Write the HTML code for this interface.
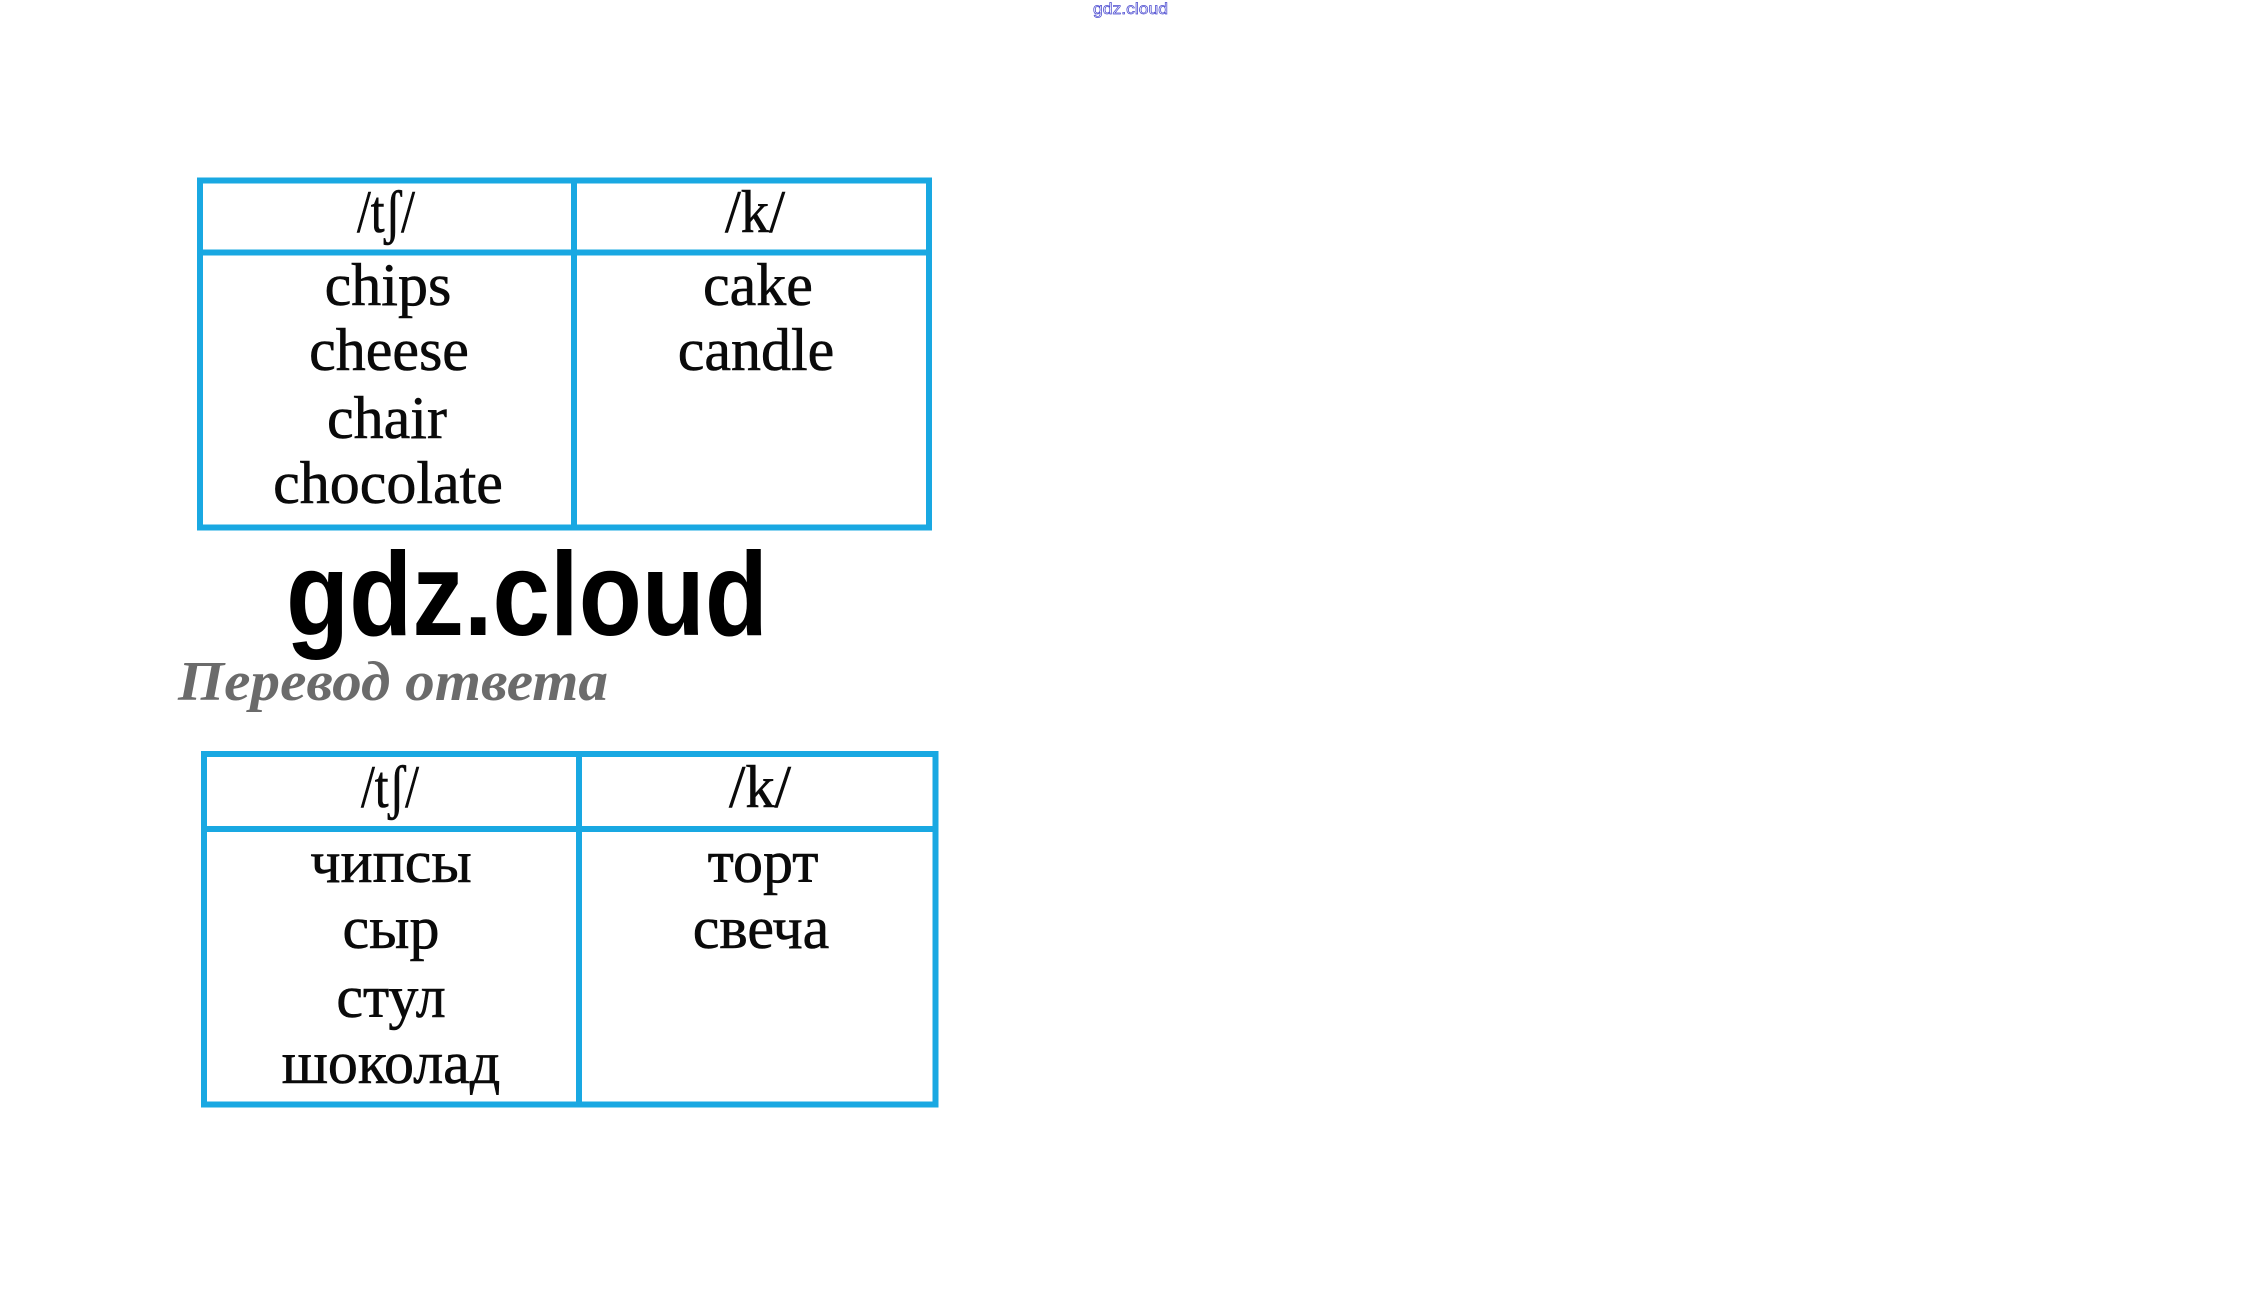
<!DOCTYPE html>
<html>
<head>
<meta charset="utf-8">
<style>
  html,body{margin:0;padding:0;background:#fff;}
  body{width:2262px;height:1291px;overflow:hidden;}
  svg{display:block;}
  .w{font-family:"Liberation Serif","DejaVu Serif",serif;font-size:60px;fill:#0a0a0a;stroke:#0a0a0a;stroke-width:0.6;text-anchor:middle;}
</style>
</head>
<body>
<svg width="2262" height="1291" viewBox="0 0 2262 1291" xmlns="http://www.w3.org/2000/svg">
  <rect x="0" y="0" width="2262" height="1291" fill="#ffffff"/>

  <!-- watermark top -->
  <text x="1093" y="14" font-family="Liberation Sans, DejaVu Sans, sans-serif" font-size="16" fill="#ffffff" stroke="#4a4ad0" stroke-width="0.7" textLength="75" lengthAdjust="spacingAndGlyphs">gdz.cloud</text>

  <!-- Table 1 -->
  <g fill="none" stroke="#19a8e2" stroke-width="6">
    <rect x="200" y="180.5" width="729" height="347"/>
    <line x1="200" y1="252.5" x2="929" y2="252.5"/>
    <line x1="574" y1="180.5" x2="574" y2="527.5"/>
  </g>
  <text class="w" x="386" y="232" textLength="58" lengthAdjust="spacingAndGlyphs">/tʃ/</text>
  <text class="w" x="755" y="232" textLength="60" lengthAdjust="spacingAndGlyphs">/k/</text>
  <text class="w" x="388" y="305">chips</text>
  <text class="w" x="389" y="370">cheese</text>
  <text class="w" x="387" y="438">chair</text>
  <text class="w" x="388" y="503">chocolate</text>
  <text class="w" x="758" y="305">cake</text>
  <text class="w" x="756" y="370">candle</text>

  <!-- gdz.cloud big -->
  <text x="286" y="635" font-family="Liberation Sans, DejaVu Sans, sans-serif" font-weight="bold" font-size="119" fill="#000" textLength="482" lengthAdjust="spacingAndGlyphs">gdz.cloud</text>

  <!-- Перевод ответа -->
  <text x="178" y="700" font-family="Liberation Serif, DejaVu Serif, serif" font-weight="bold" font-style="italic" font-size="56" fill="#6b6b6b" textLength="430" lengthAdjust="spacingAndGlyphs">Перевод ответа</text>

  <!-- Table 2 -->
  <g fill="none" stroke="#19a8e2" stroke-width="6">
    <rect x="204" y="754" width="731.5" height="350.5"/>
    <line x1="204" y1="829" x2="935.5" y2="829"/>
    <line x1="579" y1="754" x2="579" y2="1104.5"/>
  </g>
  <text class="w" x="390" y="807" textLength="58" lengthAdjust="spacingAndGlyphs">/tʃ/</text>
  <text class="w" x="760" y="807" textLength="62" lengthAdjust="spacingAndGlyphs">/k/</text>
  <text class="w" x="391" y="882">чипсы</text>
  <text class="w" x="391" y="948">сыр</text>
  <text class="w" x="391" y="1017">стул</text>
  <text class="w" x="391" y="1083">шоколад</text>
  <text class="w" x="763" y="882">торт</text>
  <text class="w" x="761" y="948">свеча</text>
</svg>
</body>
</html>
